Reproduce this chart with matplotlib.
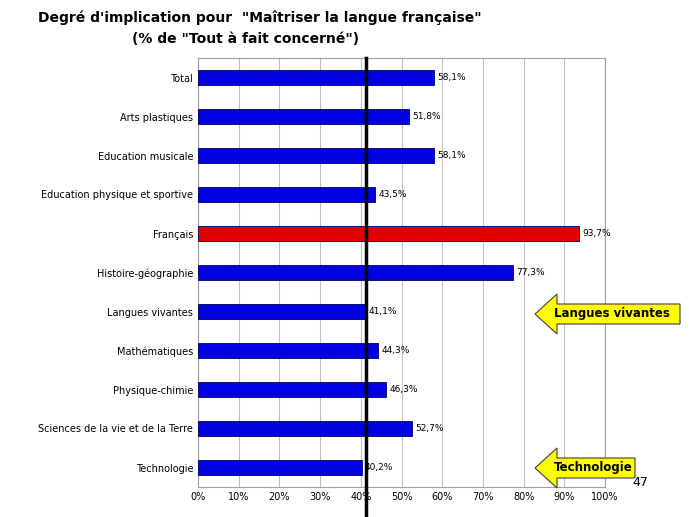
import matplotlib
matplotlib.use("Agg")
import matplotlib.pyplot as plt
from matplotlib.patches import FancyArrow

categories = ["Total", "Arts plastiques", "Education musicale", "Education physique et sportive",
              "Français", "Histoire-géographie", "Langues vivantes", "Mathématiques",
              "Physique-chimie", "Sciences de la vie et de la Terre", "Technologie"]
values = [58.1, 51.8, 58.1, 43.5, 93.7, 77.3, 41.1, 44.3, 46.3, 52.7, 40.2]
highlight = "Français"
ref_line = 41.3
ticks = list(range(0, 101, 10))

fig = plt.figure(figsize=(6.89, 5.17), dpi=100)
ax = fig.add_axes([198/689, 1-487/517, 407/689, (487-58)/517])
y = list(range(len(categories)))
colors = ["#e00000" if c == highlight else "#0000e0" for c in categories]
ax.barh(y, values, height=0.4, color=colors, edgecolor="#000060", linewidth=0.6, zorder=3)
for yi, v in zip(y, values):
    ax.text(v + 0.8, yi, f"{v:.1f}%".replace(".", ","), va="center", fontsize=6.5, zorder=4)
ax.axvline(ref_line, color="black", linewidth=2.5, zorder=5, ymin=-0.1, clip_on=False)
ax.set_xlim(0, 100)
ax.set_ylim(len(categories) - 0.5, -0.5)
ax.set_yticks(y)
ax.set_yticklabels(categories, fontsize=7)
ax.set_xticks(ticks)
ax.set_xticklabels([f"{t}%" for t in ticks], fontsize=7)
ax.grid(axis="x", color="#c0c0c0", linewidth=0.8, zorder=0)
ax.tick_params(length=0)
for s in ax.spines.values():
    s.set_color("#a0a0a0")

fig.text(38/689, 1-18/517, "Degré d'implication pour  \"Maîtriser la langue française\"",
         fontsize=10, fontweight="bold", va="center")
fig.text(246/689, 1-39/517, "(% de \"Tout à fait concerné\")", fontsize=10, fontweight="bold",
         va="center", ha="center")

for label, yc in [("Langues vivantes", 314), ("Technologie", 468)]:
    ax2 = fig.add_axes([530/689, 1-(yc+22)/517, 155/689, 44/517])
    ax2.set_xlim(0, 155); ax2.set_ylim(-22, 22); ax2.axis("off")
    long = label.startswith("L")
    ax2.add_patch(FancyArrow(150 if long else 105, 0, -145 if long else -100, 0,
                             width=20, head_width=40, head_length=22, length_includes_head=True,
                             facecolor="#ffff00", edgecolor="#404040", linewidth=0.8))
    ax2.text(24, 0, label, fontsize=8.5, fontweight="bold", va="center")
fig.text(640/689, 1-482/517, "47", fontsize=9, va="center", ha="center")
fig.savefig("out.png", dpi=100)
